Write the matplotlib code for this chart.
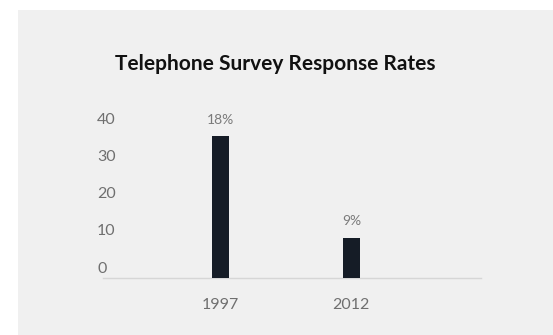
"""Telephone survey response rates, bar chart recreation."""

import matplotlib

matplotlib.use("Agg")
import matplotlib.pyplot as plt
from matplotlib.patches import Rectangle

plt.rcParams["font.family"] = ["Lato", "DejaVu Sans"]

TITLE = "Telephone Survey Response Rates"
YEARS = ["1997", "2012"]
BAR_HEIGHTS = [38, 10.7]
BAR_LABELS = ["18%", "9%"]
Y_TICKS = [0, 10, 20, 30, 40]

BG = "#f0f0f0"
BAR_COLOR = "#151c26"
TEXT_GRAY = "#6f6f6f"


def main() -> None:
    fig = plt.figure(figsize=(5.53, 3.35), dpi=100, facecolor="white")
    # grey card, starting a little in from the top-left corner
    fig.patches.append(
        Rectangle((18 / 553, 0), 1, 1 - 10 / 335, transform=fig.transFigure,
                  facecolor=BG, edgecolor="none", zorder=-5)
    )

    ax = fig.add_axes([103 / 553, (335 - 277.7) / 335, 378 / 553, 149 / 335])
    ax.set_facecolor("none")

    x = range(len(YEARS))
    bars = ax.bar(x, BAR_HEIGHTS, width=0.13, color=BAR_COLOR, zorder=3)
    for bar, label in zip(bars, BAR_LABELS):
        ax.annotate(label, (bar.get_x() + bar.get_width() / 2, bar.get_height()),
                    textcoords="offset points", xytext=(0, 7.5),
                    ha="center", va="bottom", fontsize=10, color="#7a7a7a")

    ax.set_xlim(-0.897, 1.99)
    ax.set_ylim(0, 40)

    ax.set_xticks(list(x))
    ax.set_xticklabels(YEARS, fontsize=11.5, color=TEXT_GRAY)
    ax.tick_params(axis="x", length=0, pad=14.5)

    ax.set_yticks(Y_TICKS)
    ax.set_yticklabels([str(t) for t in Y_TICKS], fontsize=11.5, color=TEXT_GRAY)
    ax.tick_params(axis="y", length=0, pad=0)
    offset = matplotlib.transforms.ScaledTranslation(-6 / 100, 2 / 100, fig.dpi_scale_trans)
    for lbl in ax.get_yticklabels():
        lbl.set_horizontalalignment("left")
        lbl.set_verticalalignment("bottom")
        lbl.set_transform(lbl.get_transform() + offset)

    for side in ("top", "right", "left"):
        ax.spines[side].set_visible(False)
    ax.spines["bottom"].set_color("#d6d6d6")
    ax.spines["bottom"].set_linewidth(1.0)

    fig.text(275 / 553, 1 - 64 / 335, TITLE, ha="center", va="center",
             fontsize=15, fontweight="bold", color="#111111")

    fig.savefig("out.png", dpi=100, facecolor=fig.get_facecolor())


if __name__ == "__main__":
    main()
